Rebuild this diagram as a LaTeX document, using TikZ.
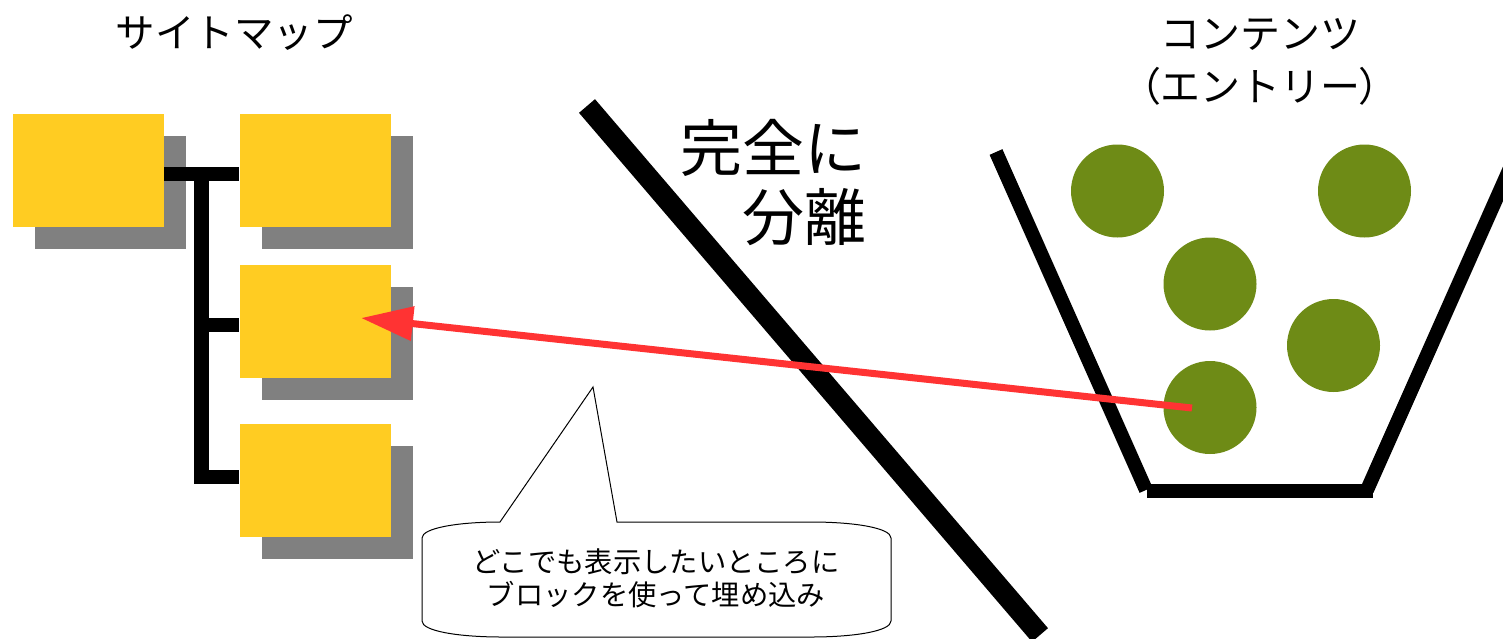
\documentclass[tikz,border=0pt]{standalone}
\usepackage{fontspec}
\setmainfont{Noto Sans CJK JP}
\newfontfamily\jpprop[RawFeature=+palt]{Noto Sans CJK JP}
\usetikzlibrary{arrows.meta,shadows}
\definecolor{boxyellow}{RGB}{255,204,34}
\definecolor{shadowgray}{RGB}{128,128,128}
\definecolor{ballgreen}{RGB}{110,139,22}
\definecolor{arrowred}{RGB}{255,51,51}
\begin{document}
\begin{tikzpicture}[x=1pt,y=-1pt,
  pagebox/.style={rectangle,inner sep=0pt,minimum width=151pt,minimum height=113pt,
    fill=boxyellow,general shadow={fill=shadowgray,shadow xshift=22pt,shadow yshift=-22pt}},
  conn/.style={line width=14pt},
  ball/.style={circle,fill=ballgreen,inner sep=0pt,minimum size=93pt},
  bucket/.style={line width=14pt},
  divider/.style={line width=21pt},
  redarrow/.style={draw=arrowred,line width=7pt,-{Triangle[length=52pt,width=33pt]}},
  callout/.style={draw=black,line width=1pt,fill=white}]
\useasboundingbox (0,0) rectangle (1503,638);

% titles
\node[font=\fontsize{39.5pt}{46pt}\selectfont,inner sep=0pt] (title1) at (234,33) {サイトマップ};
\node[font=\fontsize{40pt}{53pt}\selectfont,inner sep=0pt,align=center] (title2) at (1260,62)
  {コンテンツ\\{\jpprop （}エントリー{\jpprop ）}};

% sitemap boxes
\node[pagebox] (b1) at (88.5,170.5) {};
\node[pagebox] (b2) at (315,170.5) {};
\node[pagebox] (b3) at (315,321.5) {};
\node[pagebox] (b4) at (315,480.5) {};

% tree connectors
\coordinate (ttop) at (201.5,167);
\coordinate (tbot) at (201.5,484);
\coordinate (j1) at (201.5,174);
\coordinate (j3) at (201.5,325);
\coordinate (j4) at (201.5,476.5);
\draw[line width=15pt] (ttop) -- (tbot);
\draw[conn] (j1 -| b1.east) -- (j1 -| b2.west);
\draw[conn] (j3) -- (j3 -| b3.west);
\draw[conn] (j4) -- (j4 -| b4.west);

% divider
\coordinate (d1) at (587,106);
\coordinate (d2) at (1040,635);
\draw[divider] (d1) -- (d2);
\node[font=\fontsize{62pt}{69pt}\selectfont,inner sep=0pt,align=right,anchor=east] (sep) at (867,182.5)
  {完全に\\分離};

% bucket
\coordinate (k1) at (996,152);
\coordinate (k2) at (1146,490);
\coordinate (k3) at (1147,491);
\coordinate (k4) at (1373,491);
\coordinate (k5) at (1367,490);
\coordinate (k6) at (1518,150);
\draw[bucket] (k1) -- (k2);
\draw[bucket] (k3) -- (k4);
\draw[bucket] (k5) -- (k6);

% balls
\node[ball] (c1) at (1117.5,191) {};
\node[ball] (c2) at (1364.5,191) {};
\node[ball] (c3) at (1210,284) {};
\node[ball] (c4) at (1333.5,345.5) {};
\node[ball] (c5) at (1210,407.5) {};

% callout
\coordinate (ptip) at (593,387);
\draw[callout] (500,522) -- (ptip) -- (617,522) -- (811,522)
  .. controls (855,522) and (891,528) .. (891,538) -- (891,621)
  .. controls (891,631) and (855,637) .. (811,637) -- (502,637)
  .. controls (458,637) and (422,631) .. (422,621) -- (422,538)
  .. controls (422,528) and (458,522) .. (500,522) -- cycle;
\node[font=\fontsize{28.3pt}{33pt}\selectfont,inner sep=0pt,align=center] (note) at (656,578.5)
  {どこでも表示したいところに\\ブロックを使って埋め込み};

% arrow
\coordinate (asrc) at (1192,408);
\coordinate (atip) at (361,318);
\draw[redarrow] (asrc) -- (atip);
\end{tikzpicture}
\end{document}
